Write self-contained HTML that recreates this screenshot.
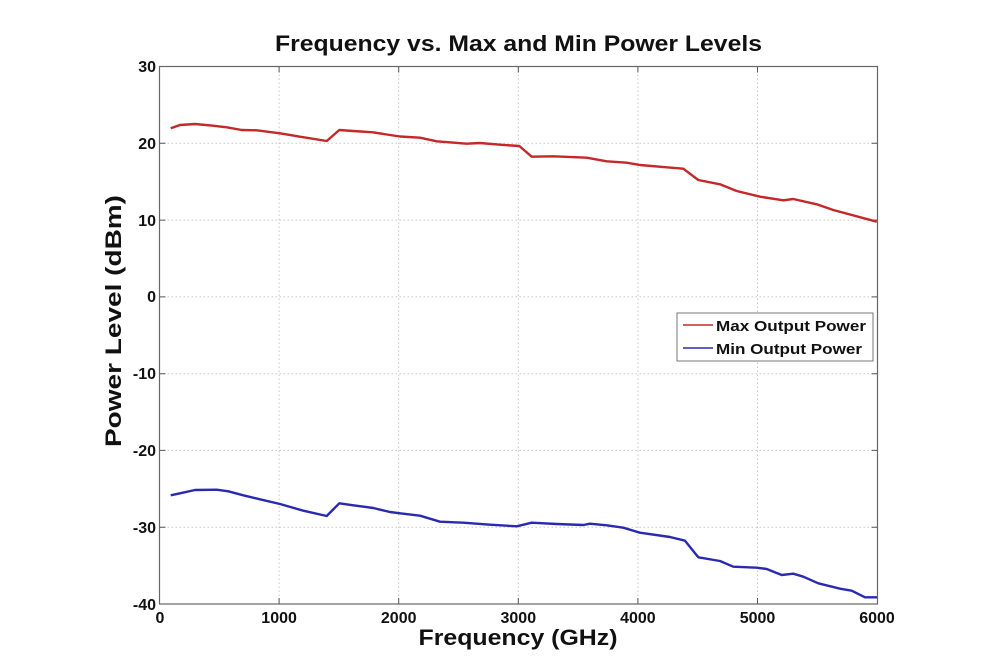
<!DOCTYPE html>
<html><head><meta charset="utf-8"><style>
html,body{margin:0;padding:0;background:#fff;}
svg{display:block;}
text{font-family:"Liberation Sans",Arial,sans-serif;font-weight:bold;fill:#111;}
</style></head><body>
<svg width="1000" height="667" viewBox="0 0 1000 667" xmlns="http://www.w3.org/2000/svg">
<rect width="1000" height="667" fill="#fff"/>
<!-- grid -->
<g stroke="#c8c8c8" stroke-width="1" stroke-dasharray="1.5,2.5">
<line x1="279.1" y1="66.5" x2="279.1" y2="604"/>
<line x1="398.7" y1="66.5" x2="398.7" y2="604"/>
<line x1="518.3" y1="66.5" x2="518.3" y2="604"/>
<line x1="637.9" y1="66.5" x2="637.9" y2="604"/>
<line x1="757.5" y1="66.5" x2="757.5" y2="604"/>
<line x1="159.5" y1="143.3" x2="877.5" y2="143.3"/>
<line x1="159.5" y1="220.1" x2="877.5" y2="220.1"/>
<line x1="159.5" y1="296.9" x2="877.5" y2="296.9"/>
<line x1="159.5" y1="373.7" x2="877.5" y2="373.7"/>
<line x1="159.5" y1="450.4" x2="877.5" y2="450.4"/>
<line x1="159.5" y1="527.2" x2="877.5" y2="527.2"/>
</g>
<!-- ticks -->
<g stroke="#555" stroke-width="1">
<path d="M279.1,604v-6M398.7,604v-6M518.3,604v-6M637.9,604v-6M757.5,604v-6M279.1,66.5v6M398.7,66.5v6M518.3,66.5v6M637.9,66.5v6M757.5,66.5v6"/>
<path d="M159.5,143.3h6M159.5,220.1h6M159.5,296.9h6M159.5,373.7h6M159.5,450.4h6M159.5,527.2h6M877.5,143.3h-6M877.5,220.1h-6M877.5,296.9h-6M877.5,373.7h-6M877.5,450.4h-6M877.5,527.2h-6"/>
</g>
<rect x="159.5" y="66.5" width="718" height="537.5" fill="none" stroke="#666" stroke-width="1.2"/>
<!-- max curve -->
<polyline fill="none" stroke="#c42828" stroke-width="2.4" stroke-linejoin="round" points="170.7,128.3 180,125 195,124 213,125.7 226.7,127.3 241.7,130 256.7,130.3 280,133.3 300,136.7 326.7,141 339.3,130 353,131 373,132.3 390,135 400,136.5 420,137.7 436.7,141.3 466.7,143.7 480,143 500,144.7 519.3,146 531.7,156.7 553.3,156.3 586.7,157.7 606.7,161.3 626.7,162.7 640,165 666.7,167.3 683.3,168.7 698.3,180 720,184.3 736.7,191 760,196.7 783.3,200.3 793.3,199 816.7,204.3 833.3,210 876.7,221.7"/>
<!-- min curve -->
<polyline fill="none" stroke="#2a2ab0" stroke-width="2.4" stroke-linejoin="round" points="170.7,495.3 180,493.3 195,490 216.7,489.7 228.3,491.3 243.3,495.3 260,499.3 280,504 303.3,510.7 326.7,516 339.3,503.3 353.3,505.3 373.3,508 390,512 400,513.3 420,515.7 440,521.7 463.3,522.7 490,524.7 516.7,526.3 531.7,522.7 556.7,524 583.3,525 590,523.7 606.7,525.3 623.3,527.7 640,532.7 670,537 685,540.7 698.3,557.3 720,561 733.3,566.7 756.7,567.7 766.7,569 781.7,575 793.3,573.7 803.3,576.7 818.3,583.3 840,588.7 851.7,590.7 865,597.3 877,597.3"/>
<!-- legend -->
<rect x="677" y="313" width="196" height="48" fill="#fff" stroke="#777" stroke-width="1"/>
<line x1="683" y1="325" x2="713" y2="325" stroke="#c42828" stroke-width="1.5"/>
<line x1="683" y1="348" x2="713" y2="348" stroke="#2a2ab0" stroke-width="1.5"/>
<text x="716" y="331" font-size="15" textLength="150" lengthAdjust="spacingAndGlyphs">Max Output Power</text>
<text x="716" y="354" font-size="15" textLength="146" lengthAdjust="spacingAndGlyphs">Min Output Power</text>
<!-- y tick labels -->
<g font-size="16" text-anchor="end">
<text x="156" y="72">30</text>
<text x="156" y="149">20</text>
<text x="156" y="226">10</text>
<text x="156" y="302">0</text>
<text x="156" y="379">-10</text>
<text x="156" y="456">-20</text>
<text x="156" y="533">-30</text>
<text x="156" y="610">-40</text>
</g>
<!-- x tick labels -->
<g font-size="16" text-anchor="middle">
<text x="160" y="623">0</text>
<text x="279.1" y="623">1000</text>
<text x="398.7" y="623">2000</text>
<text x="518.3" y="623">3000</text>
<text x="637.9" y="623">4000</text>
<text x="757.5" y="623">5000</text>
<text x="877" y="623">6000</text>
</g>
<text x="518" y="645" font-size="22" text-anchor="middle" textLength="199" lengthAdjust="spacingAndGlyphs">Frequency (GHz)</text>
<text x="518.5" y="51" font-size="22" text-anchor="middle" textLength="487" lengthAdjust="spacingAndGlyphs">Frequency vs. Max and Min Power Levels</text>
<text transform="translate(121,321) rotate(-90)" font-size="22" text-anchor="middle" textLength="252" lengthAdjust="spacingAndGlyphs">Power Level (dBm)</text>
</svg>
</body></html>
